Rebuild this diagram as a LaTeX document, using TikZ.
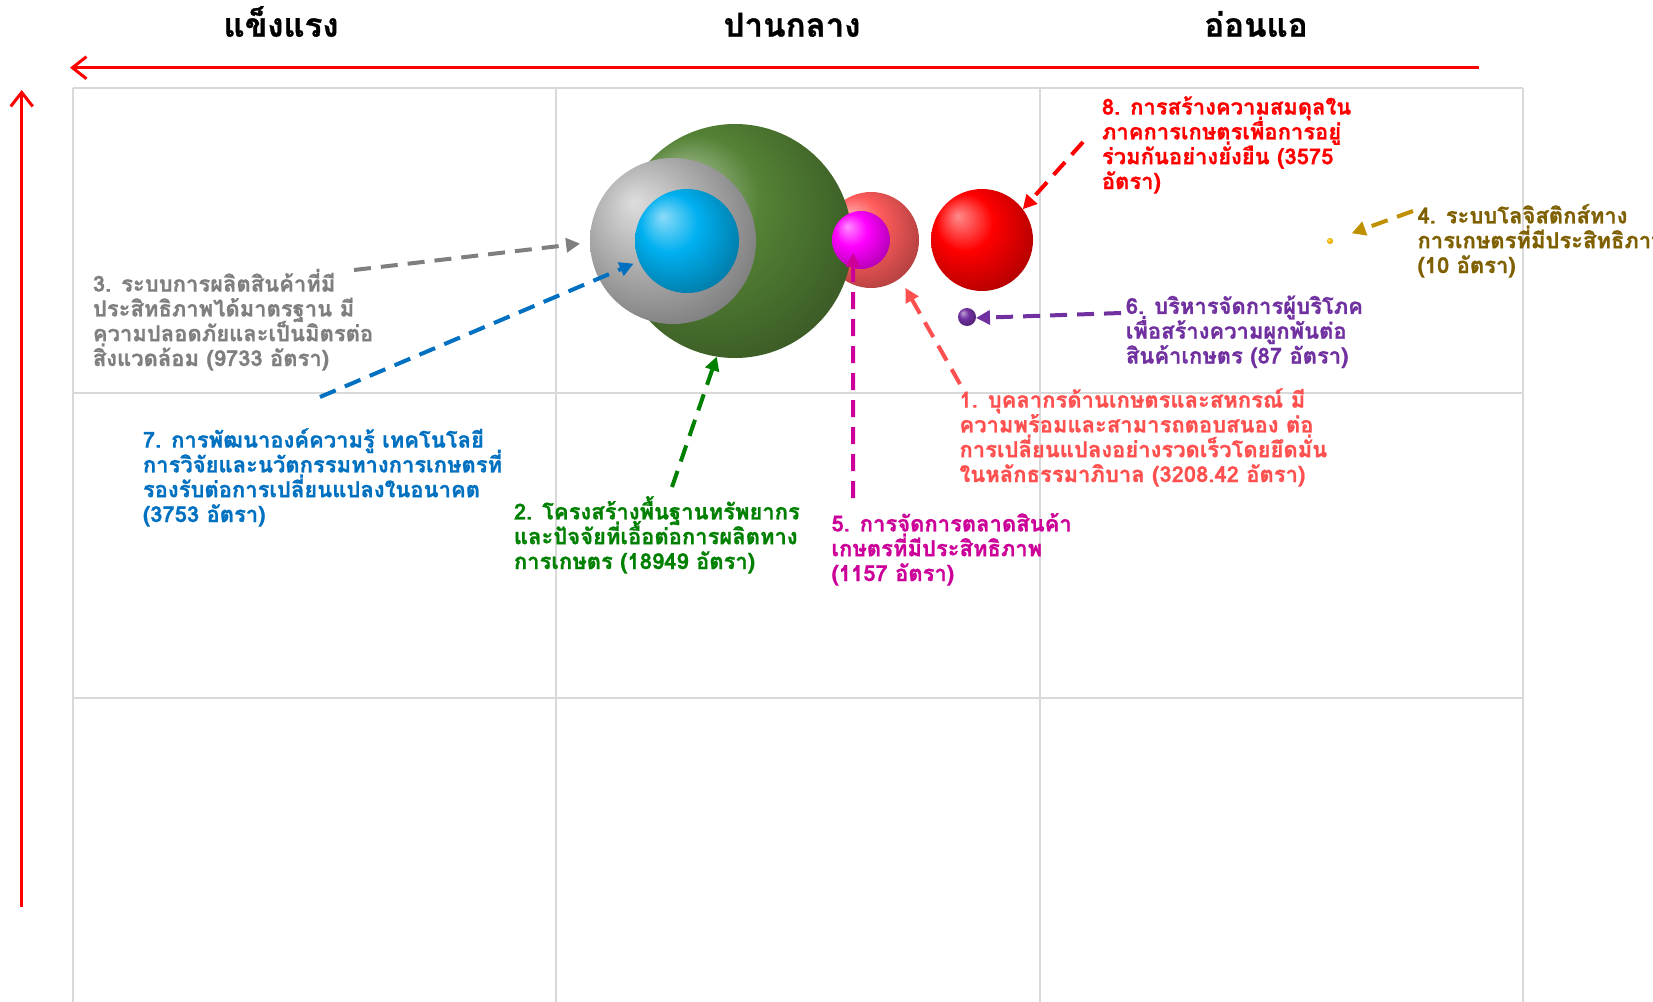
\documentclass[tikz,border=0pt]{standalone}
\usepackage{fontspec}
\setmainfont[Script=Thai, BoldFeatures={FakeBold=0.9}]{Loma}
\usetikzlibrary{arrows.meta}
\definecolor{gridc}{HTML}{D9D9D9}
\definecolor{tGrey}{HTML}{7F7F7F}
\definecolor{tBlue}{HTML}{0070C0}
\definecolor{tGreen}{HTML}{008000}
\definecolor{tMag}{HTML}{CC0099}
\definecolor{tSalmon}{HTML}{FF5050}
\definecolor{tRed}{HTML}{FF0000}
\definecolor{tGold}{HTML}{7F6000}
\definecolor{aGold}{HTML}{BF9000}
\definecolor{tPurple}{HTML}{7030A0}
\definecolor{sGreen}{HTML}{548235}
\definecolor{sGrey}{HTML}{B4B4B4}
\definecolor{sBlue}{HTML}{00B0F0}
\definecolor{sSalmon}{HTML}{FF5B5B}
\definecolor{sMag}{HTML}{FF00FF}
\definecolor{sRed}{HTML}{FF0000}
\definecolor{sPurple}{HTML}{7030A0}
\definecolor{sGold}{HTML}{FFC000}
\colorlet{sphc}{sRed}
\pgfdeclareradialshading[sphc]{sphere}{\pgfqpoint{-12bp}{12bp}}{%
  color(0bp)=(sphc!45!white);
  color(14bp)=(sphc);
  color(32bp)=(sphc!70!black);
  color(50bp)=(sphc!25!black)}
\tikzset{
  gridline/.style={draw=gridc, line width=2pt},
  axis/.style={draw=red, line width=3pt, -{Straight Barb[length=14pt,width=22pt]}},
  hdr/.style={font=\fontsize{33}{36}\selectfont\bfseries, anchor=base, inner sep=0pt},
  lbl/.style={font=\fontsize{22}{24.8}\selectfont\bfseries, align=left, anchor=base west, inner sep=0pt, text=#1},
  con/.style={draw=#1, line width=4pt, dash pattern=on 17pt off 10pt, -{Triangle[length=14pt,width=14pt]}},
  sphcol/.code={\colorlet{sphc}{#1}},
  sphere/.style={circle, inner sep=0pt, outer sep=0pt, minimum size=#1, shade, shading=sphere},
}
\begin{document}
\lineskiplimit=-30pt
\lineskip=0pt
\begin{tikzpicture}[x=1pt,y=-1pt]
\useasboundingbox (0,0) rectangle (1653,1001);
\clip (0,0) rectangle (1653,1001);
\fill[white] (0,0) rectangle (1653,1001);
% grid
\foreach \gx in {72.7,555.6,1039.5,1523} \draw[gridline] (\gx,88.3) -- (\gx,1010);
\foreach \gy in {88.3,393,698} \draw[gridline] (72.7,\gy) -- (1523,\gy);
% axes
\coordinate (ta1) at (1479,67.7);
\coordinate (ta2) at (70,67.7);
\coordinate (la1) at (21.7,907);
\coordinate (la2) at (21.7,90);
\draw[axis] (ta1) -- (ta2);
\draw[axis] (la1) -- (la2);
% headers
\node[hdr] (h1) at (281,36.7) {แข็งแรง};
\node[hdr] (h2) at (792,36.7) {ปานกลาง};
\node[hdr] (h3) at (1256,36.7) {อ่อนแอ};
% spheres
\node[sphere=96pt, sphcol=sSalmon] (s1) at (871,240) {};
\node[sphere=234pt, sphcol=sGreen] (s2) at (735,241) {};
\node[sphere=166pt, sphcol=sGrey] (s3) at (673,241) {};
\node[sphere=104pt, sphcol=sBlue] (s7) at (687,241) {};
\node[sphere=58pt, sphcol=sMag] (s5) at (861,240) {};
\node[sphere=102pt, sphcol=sRed] (s8) at (982,240) {};
\node[sphere=18pt, sphcol=sPurple] (s6) at (967,317) {};
\node[sphere=6pt, sphcol=sGold] (s4) at (1330,241) {};
% labels (anchored at the baseline of the last line)
\node[lbl=tGrey] (l3) at (92.7,366) {3. ระบบการผลิตสินค้าที่มี\\ประสิทธิภาพได้มาตรฐาน มี\\ความปลอดภัยและเป็นมิตรต่อ\\สิ่งแวดล้อม (9733 อัตรา)};
\node[lbl=tBlue] (l7) at (142.7,522) {7. การพัฒนาองค์ความรู้ เทคโนโลยี\\การวิจัยและนวัตกรรมทางการเกษตรที่\\รองรับต่อการเปลี่ยนแปลงในอนาคต\\(3753 อัตรา)};
\node[lbl=tGreen] (l2) at (513.7,569) {2. โครงสร้างพื้นฐานทรัพยากร\\และปัจจัยที่เอื้อต่อการผลิตทาง\\การเกษตร (18949 อัตรา)};
\node[lbl=tMag] (l5) at (831.3,581) {5. การจัดการตลาดสินค้า\\เกษตรที่มีประสิทธิภาพ\\(1157 อัตรา)};
\node[lbl=tSalmon] (l1) at (959.3,482) {1. บุคลากรด้านเกษตรและสหกรณ์ มี\\ความพร้อมและสามารถตอบสนอง ต่อ\\การเปลี่ยนแปลงอย่างรวดเร็วโดยยึดมั่น\\ในหลักธรรมาภิบาล (3208.42 อัตรา)};
\node[lbl=tRed] (l8) at (1101.7,189) {8. การสร้างความสมดุลใน\\ภาคการเกษตรเพื่อการอยู่\\ร่วมกันอย่างยั่งยืน (3575\\อัตรา)};
\node[lbl=tGold] (l4) at (1417.3,273) {4. ระบบโลจิสติกส์ทาง\\การเกษตรที่มีประสิทธิภาพ\\(10 อัตรา)};
\node[lbl=tPurple] (l6) at (1125.7,363.5) {6. บริหารจัดการผู้บริโภค\\เพื่อสร้างความผูกพันต่อ\\สินค้าเกษตร (87 อัตรา)};
% connectors
\coordinate (c3) at (354,270);
\coordinate (c7) at (320,397);
\coordinate (c2) at (672,487);
\coordinate (c5) at (853,498);
\coordinate (c1) at (960,384);
\coordinate (c8) at (1083,142);
\coordinate (c6) at (1121,313);
\coordinate (c4) at (1413,211);
\draw[con=tGrey, shorten >=10pt] (c3) -- (s3.181);
\draw[con=tBlue, shorten >=6pt] (c7) -- (s7.203.5);
\draw[con=tGreen] (c2) -- (s2.261);
\draw[con=tMag, shorten >=-15pt] (c5) -- (s5.254);
\draw[con=tSalmon, shorten >=11pt] (c1) -- (s1.307.5);
\draw[con=tRed] (c8) -- (s8.37);
\draw[con=tPurple] (c6) -- (s6.354);
\draw[con=aGold, shorten >=20pt] (c4) -- (s4.17.6);
\end{tikzpicture}
\end{document}
